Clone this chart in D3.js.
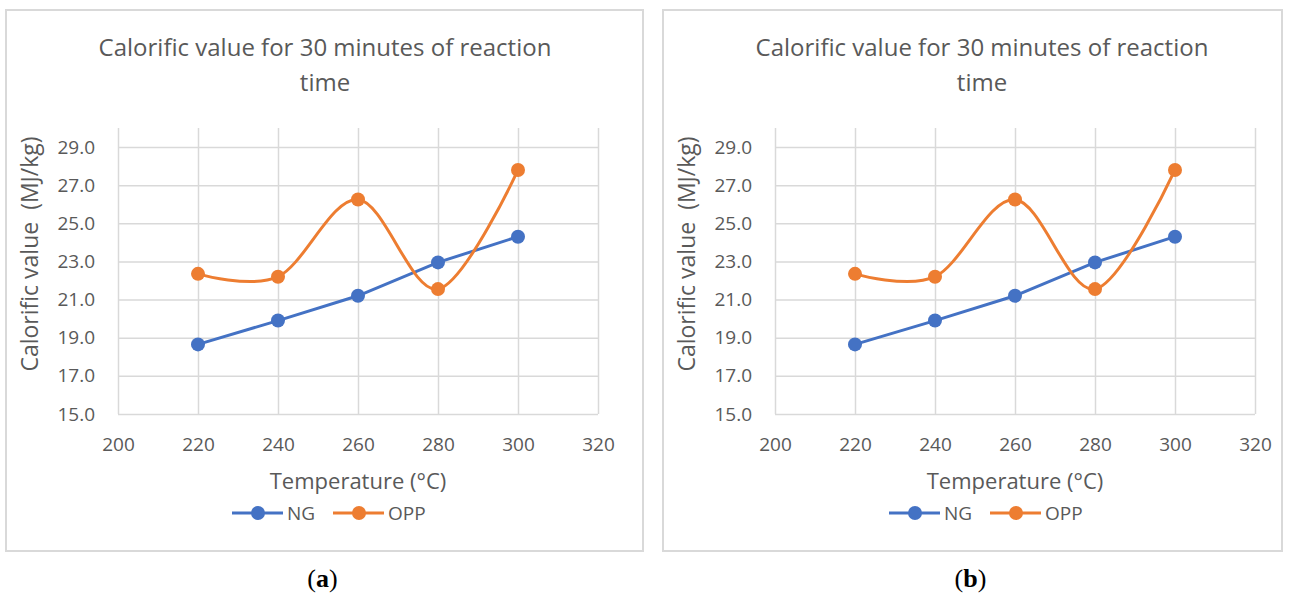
<!DOCTYPE html>
<html>
<head>
<meta charset="utf-8">
<script src="https://d3js.org/d3.v7.min.js"></script>
<style>
body{
  margin:0;
  background:#fff;
}
svg text{
  font-family:"Open Sans", sans-serif;
  fill:#595959;
}
.grid .domain{
  display:none;
}
.grid line{
  stroke:#d9d9d9;
  stroke-width:1.5;
}
</style>
</head>
<body>
<div id="chart"></div>
<script>
// data
const temps = [220, 240, 260, 280, 300];
const ngValues = [18.65, 19.9, 21.2, 22.95, 24.3];
const oppValues = [22.35, 22.2, 26.25, 21.55, 27.8];
const xTicks = [200, 220, 240, 260, 280, 300, 320];
const yTicks = [15, 17, 19, 21, 23, 25, 27, 29];
const seriesNames = ["NG", "OPP"];
const panelLabels = ["a", "b"];

const titleLines = ["Calorific value for 30 minutes of reaction", "time"];
const xTitle = "Temperature (°C)";
const yTitle = "Calorific value\u00a0 (MJ/kg)";

const colors = {NG:"#4472c4", OPP:"#ed7d31"};

// layout of the two panels
const panels = [
  {box:[6, 10, 643, 551], plot:[118, 598]},
  {box:[663, 10, 1282, 551], plot:[775, 1255]}
];
const plotTop = 128, plotBottom = 414;

const width = 1289, height = 594;
const svg = d3.select("#chart")
  .append("svg")
    .attr("width", width)
    .attr("height", height);

const series = [
  {name:"NG", values:ngValues, curve:d3.curveLinear},
  {name:"OPP", values:oppValues, curve:d3.curveCatmullRom.alpha(0)}
];

panels.forEach(function(p, i){
  let g = svg.append("g");
  let [bx0, by0, bx1, by1] = p.box;

  g.append("rect")
    .attr("x", bx0).attr("y", by0)
    .attr("width", bx1 - bx0).attr("height", by1 - by0)
    .attr("fill", "#fff")
    .attr("stroke", "#d9d9d9")
    .attr("stroke-width", 2);

  let x = d3.scaleLinear().domain([200, 320]).range(p.plot);
  let y = d3.scaleLinear().domain([15, 30]).range([plotBottom, plotTop]);
  let cx = (p.plot[0] + p.plot[1]) / 2;

  // gridlines + tick labels
  g.append("g")
    .attr("class", "grid")
    .attr("transform", "translate(0," + plotBottom + ")")
    .call(d3.axisBottom(x)
      .tickValues(xTicks)
      .tickSize(-(plotBottom - plotTop))
      .tickPadding(24)
      .tickFormat(d3.format("d")))
    .selectAll("text")
      .style("font-size", "19px")
      .attr("fill", "#595959");

  g.append("g")
    .attr("class", "grid")
    .attr("transform", "translate(" + p.plot[0] + ",0)")
    .call(d3.axisLeft(y)
      .tickValues(yTicks)
      .tickSize(-(p.plot[1] - p.plot[0]))
      .tickPadding(23)
      .tickFormat(d3.format(".1f")))
    .selectAll("text")
      .style("font-size", "19px")
      .attr("fill", "#595959");

  // title
  g.append("text")
    .attr("text-anchor", "middle")
    .style("font-size", "24px")
    .selectAll("tspan")
    .data(titleLines)
    .join("tspan")
      .attr("x", cx - 33)
      .attr("y", function(d, k){ return 56 + k * 35; })
      .text(function(d){ return d; });

  // axis titles
  g.append("text")
    .attr("x", cx)
    .attr("y", 489)
    .attr("text-anchor", "middle")
    .style("font-size", "22px")
    .text(xTitle);

  g.append("text")
    .attr("transform", "translate(" + (p.plot[0] - 80) + ",254) rotate(-90)")
    .attr("text-anchor", "middle")
    .style("font-size", "23px")
    .text(yTitle);

  // lines and markers
  series.forEach(function(s){
    let pts = temps.map(function(t, k){ return {t:t, v:s.values[k]}; });
    g.append("path")
      .datum(pts)
      .attr("fill", "none")
      .attr("stroke", colors[s.name])
      .attr("stroke-width", 3)
      .attr("d", d3.line()
        .curve(s.curve)
        .x(function(d){ return x(d.t); })
        .y(function(d){ return y(d.v); }));
    g.selectAll(null)
      .data(pts)
      .join("circle")
        .attr("cx", function(d){ return x(d.t); })
        .attr("cy", function(d){ return y(d.v); })
        .attr("r", 7)
        .attr("fill", colors[s.name]);
  });

  // legend
  let legendY = 513;
  seriesNames.forEach(function(name, k){
    let lx = cx - 126 + k * 101;
    g.append("line")
      .attr("x1", lx).attr("x2", lx + 51)
      .attr("y1", legendY).attr("y2", legendY)
      .attr("stroke", colors[name])
      .attr("stroke-width", 3);
    g.append("circle")
      .attr("cx", lx + 26).attr("cy", legendY)
      .attr("r", 7)
      .attr("fill", colors[name]);
    g.append("text")
      .attr("x", lx + 55)
      .attr("y", legendY + 7)
      .style("font-size", "19px")
      .text(name);
  });

  // panel label (a) / (b)
  let lab = svg.append("text")
    .attr("x", (bx0 + bx1) / 2 - 2)
    .attr("y", 587)
    .attr("text-anchor", "middle")
    .style("font-family", "'Liberation Serif', serif")
    .style("font-size", "26px")
    .style("fill", "#000");
  lab.append("tspan").text("(");
  lab.append("tspan").style("font-weight", "bold").text(panelLabels[i]);
  lab.append("tspan").text(")");
});
</script>
</body>
</html>
